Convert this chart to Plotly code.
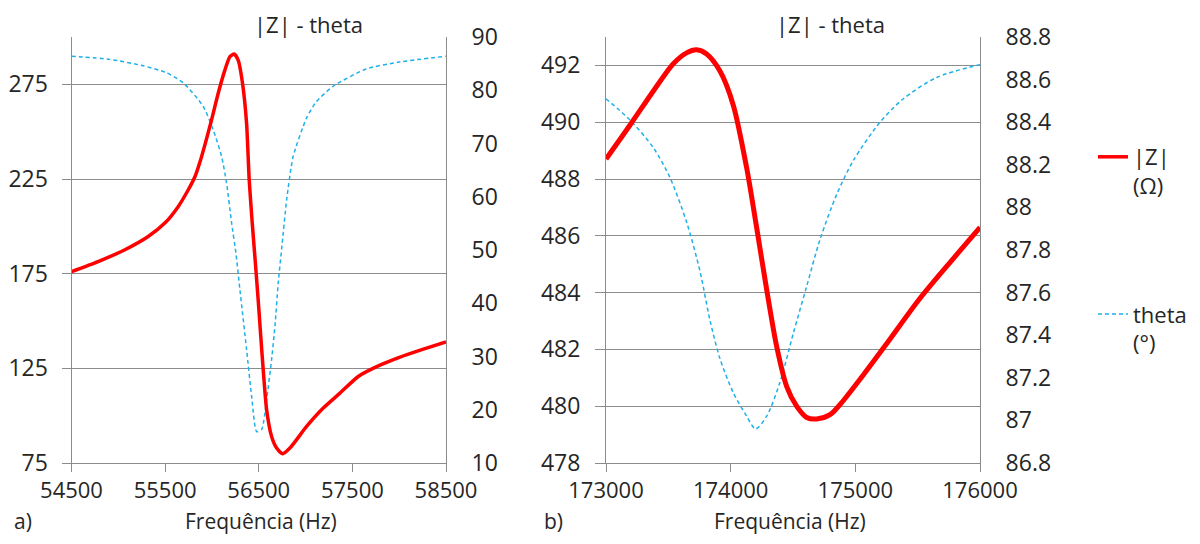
import plotly.graph_objects as go

W, H = 1200, 544
OFF = 8  # page body margin of the browser

# ---------- data: panel a ----------
fa_z = [54500, 54784, 55070, 55319, 55497, 55639, 55746, 55818, 55889, 55996, 56067,
        56138, 56192, 56238, 56280, 56327, 56370, 56398, 56430, 56465, 56494, 56520,
        56548, 56584, 56637, 56691, 56755, 56833, 57011, 57189, 57367, 57563, 57800,
        58002, 58250, 58500]
za = [176.1, 181.4, 187.6, 194.6, 201.7, 210.4, 219.2, 226.2, 236.8, 256.2, 270.3,
      282.5, 289.6, 291.0, 287.8, 275.5, 254.4, 224.5, 202.0, 180.0, 161.0, 143.0,
      124.0, 103.1, 89.0, 82.9, 79.9, 82.9, 94.3, 104.0, 111.9, 120.7, 126.8,
      130.8, 135.0, 139.0]

fa_t = [54500, 54909, 55264, 55513, 55693, 55906, 56013, 56103, 56156, 56210, 56256,
        56299, 56370, 56424, 56477, 56531, 56584, 56637, 56673, 56708, 56744, 56798,
        56868, 57011, 57113, 57291, 57647, 58002, 58500]
ta = [86.4, 85.8, 84.6, 83.3, 81.4, 77.0, 72.6, 67.6, 62.6, 55.1, 49.4,
      42.5, 31.3, 22.5, 15.9, 16.3, 21.9, 29.4, 35.7, 43.8, 50.1, 59.4,
      67.6, 74.8, 77.8, 80.7, 84.0, 85.3, 86.4]

# ---------- data: panel b ----------
fb_z = [173000, 173193, 173380, 173540, 173650, 173727, 173807, 173914, 174021, 174128, 174208,
        174289, 174369, 174449, 174529, 174610, 174690, 174797, 174904, 175064, 175251,
        175519, 175786, 176000]
zb = [488.7, 489.9, 491.1, 492.06, 492.45, 492.55, 492.4, 491.8, 490.6, 488.4, 486.3,
      484.1, 482.1, 480.7, 480.0, 479.6, 479.55, 479.7, 480.2, 481.1, 482.2,
      483.8, 485.2, 486.3]

fb_t = [173000, 173193, 173380, 173513, 173647, 173754, 173834, 173914, 174021, 174128,
        174200, 174289, 174396, 174503, 174610, 174717, 174850, 174984, 175198, 175385,
        175652, 176000]
tb = [88.51, 88.41, 88.28, 88.14, 87.93, 87.70, 87.47, 87.29, 87.13, 87.02,
      86.96, 87.02, 87.18, 87.41, 87.63, 87.85, 88.06, 88.22, 88.40, 88.51,
      88.61, 88.67]

# ---------- tick labels ----------
xa_ticks = [54500, 55500, 56500, 57500, 58500]
ya_ticks = [75, 125, 175, 225, 275]
ya2_ticks = [10, 20, 30, 40, 50, 60, 70, 80, 90]
xb_ticks = [173000, 174000, 175000, 176000]
yb_ticks = [478, 480, 482, 484, 486, 488, 490, 492]
yb2_ticks = [86.8, 87.0, 87.2, 87.4, 87.6, 87.8, 88.0, 88.2, 88.4, 88.6, 88.8]
yb2_text = ["86.8", "87", "87.2", "87.4", "87.6", "87.8", "88", "88.2", "88.4", "88.6", "88.8"]

RED = "#FF0000"
BLUE = "#1FB0EA"
GRID = "#8C8C8C"
TXT = "#262626"
FONT = "Open Sans"
FW, FH = W - 2 * OFF, H - 2 * OFF


def px(xp):
    return (xp - OFF) / FW


def py(yp):
    return 1 - (yp - OFF) / FH


fig = go.Figure()

# theta on base axes (drawn below), |Z| on overlay axes (drawn on top)
fig.add_trace(go.Scatter(x=fa_t, y=ta, xaxis="x", yaxis="y", mode="lines",
                         line=dict(color=BLUE, width=1.5, dash="4px,3px", shape="spline", smoothing=0.6),
                         name="theta<br>(°)", legendgroup="t", legendrank=2))
fig.add_trace(go.Scatter(x=fa_z, y=za, xaxis="x", yaxis="y2", mode="lines",
                         line=dict(color=RED, width=3.5, shape="spline", smoothing=0.6),
                         name="|Z|<br>(Ω)", legendgroup="z", legendrank=1))
fig.add_trace(go.Scatter(x=fb_t, y=tb, xaxis="x2", yaxis="y3", mode="lines",
                         line=dict(color=BLUE, width=1.5, dash="4px,3px", shape="spline", smoothing=0.8),
                         showlegend=False))
fig.add_trace(go.Scatter(x=fb_z, y=zb, xaxis="x2", yaxis="y4", mode="lines",
                         line=dict(color=RED, width=5, shape="spline", smoothing=0.8),
                         showlegend=False))

ydom = [py(463), py(37)]
tf = dict(family=FONT, size=23, color=TXT)
xf = dict(family=FONT, size=22, color=TXT)
lf = dict(family=FONT, size=22, color=TXT)
common_x = dict(showgrid=False, zeroline=False, showline=True, linecolor=GRID, linewidth=1,
                ticks="outside", ticklen=8, tickcolor=GRID, tickformat="d", automargin=False,
                tickfont=xf, ticklabelstandoff=0)

fig.update_layout(
    template="none",
    width=FW, height=FH,
    margin=dict(l=0, r=0, t=0, b=0, autoexpand=False),
    paper_bgcolor="white", plot_bgcolor="white",
    font=lf,
    xaxis=dict(domain=[px(71.5), px(446)], range=[54500, 58500], tickvals=xa_ticks,
               anchor="y", **common_x),
    yaxis=dict(domain=ydom, range=[10, 90], tickvals=ya2_ticks, side="right", anchor="x",
               showgrid=False, zeroline=False, showline=True, linecolor=GRID, ticks="",
               automargin=False, tickfont=tf, ticklabelstandoff=20),
    yaxis2=dict(overlaying="y", anchor="x", side="left", range=[75, 300], tickvals=ya_ticks,
                showgrid=True, gridcolor=GRID, gridwidth=1, zeroline=False, showline=True,
                linecolor=GRID, ticks="outside", ticklen=9, tickcolor=GRID,
                automargin=False, tickfont=tf, ticklabelstandoff=9),
    xaxis2=dict(domain=[px(606), px(980)], range=[173000, 176000], tickvals=xb_ticks,
                anchor="y3", **common_x),
    yaxis3=dict(domain=ydom, range=[86.8, 88.8], tickvals=yb2_ticks, ticktext=yb2_text,
                side="right", anchor="x2",
                showgrid=False, zeroline=False, showline=True, linecolor=GRID, ticks="",
                automargin=False, tickfont=tf, ticklabelstandoff=20),
    yaxis4=dict(overlaying="y3", anchor="x2", side="left", range=[478, 493], tickvals=yb_ticks,
                showgrid=True, gridcolor=GRID, gridwidth=1, zeroline=False, showline=True,
                linecolor=GRID, ticks="outside", ticklen=10, tickcolor=GRID,
                automargin=False, tickfont=tf, ticklabelstandoff=10),
    showlegend=True,
    legend=dict(x=px(1093), y=py(136), xanchor="left", yanchor="top",
                traceorder="grouped", tracegroupgap=97, valign="top",
                font=lf, bgcolor="rgba(0,0,0,0)"),
)

ann = [
    dict(text="|Z| - theta", x=px(308), y=py(24), size=22),
    dict(text="|Z| - theta", x=px(830), y=py(24), size=22),
    dict(text="Frequência (Hz)", x=px(261), y=py(521), size=21),
    dict(text="Frequência (Hz)", x=px(790), y=py(521), size=21),
    dict(text="a)", x=px(23), y=py(521), size=21),
    dict(text="b)", x=px(553), y=py(521), size=21),
]
for a in ann:
    s = a.pop("size")
    fig.add_annotation(xref="paper", yref="paper", showarrow=False, xanchor="center",
                       yanchor="middle", borderpad=0,
                       font=dict(family=FONT, size=s, color=TXT), **a)

fig.write_html("out.html")
